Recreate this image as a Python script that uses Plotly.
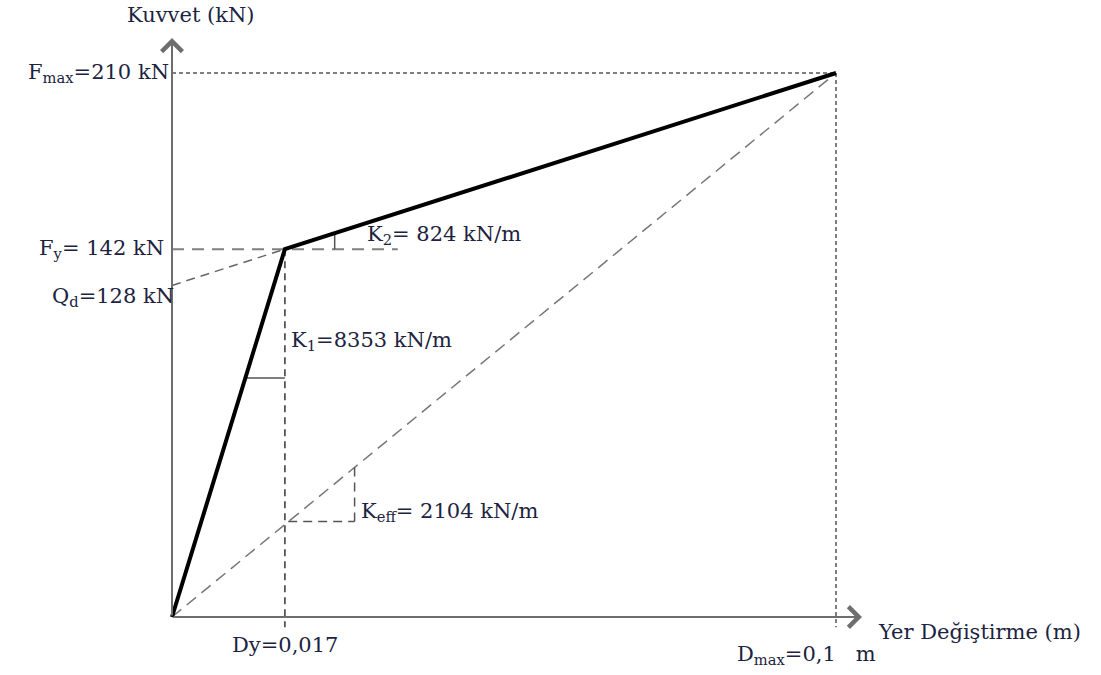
import plotly.graph_objects as go

# Bilinear force-displacement idealisation (isolator)
disp = [0.0, 0.017, 0.1]        # D (m): origin, yield, max
force = [0.0, 142.0, 210.0]     # F (kN): origin, yield, max
Qd = 128.0                      # characteristic strength (kN)
K1 = 8353                       # elastic stiffness (kN/m)
K2 = 824                        # post-yield stiffness (kN/m)
Keff = 2104                     # effective stiffness (kN/m)

Dy, Dmax = disp[1], disp[2]
Fy, Fmax = force[1], force[2]


def tr(v):
    return str(v).replace(".", ",")


# pixel mapping of the drawing area (full page used as plot area)
W, H = 1101, 675
x_org, x_ref = 172, 836
y_org, y_ref = 617, 73
sx = (x_ref - x_org) / Dmax
sy = (y_org - y_ref) / Fmax
xr = [-x_org / sx, (W - x_org) / sx]
yr = [-(H - y_org) / sy, y_org / sy]

GRAY = "#6e6e6e"
TXT = "#1c2340"
FONT = "DejaVu Serif"

fig = go.Figure()


def seg(xs, ys, color=GRAY, width=1.5, dash=None):
    fig.add_trace(go.Scatter(x=xs, y=ys, mode="lines",
                             line=dict(color=color, width=width, dash=dash),
                             hoverinfo="skip", showlegend=False))


x_end = (862 - x_org) / sx
y_end = (y_org - 38) / sy
tick = 4.0

# guide lines
seg([0, Dmax], [Fmax, Fmax], "#555", 1.5, "4px,3px")
seg([Dmax, Dmax], [Fmax, -tick], "#555", 1.5, "4px,3px")
seg([0, 2 * Dy], [Fy, Fy], "#808080", 2, "12px,8px")
seg([Dy, Dy], [Fy, -tick], "#555", 1.8, "7px,5px")
seg([0, Dy], [Qd, Fy], "#666", 1.5, "9px,6px")
seg([0, Dmax], [0, Fmax], "#777", 1.5, "12px,7px")

# K1 slope marker
f1 = 0.65 * Fy
seg([f1 / K1, Dy], [f1, f1], "#555", 1.5)
# K2 angle marker
d2 = Dy + 0.0075
seg([d2, d2], [Fy, Fy + K2 * (d2 - Dy)], "#555", 1.5)
# Keff slope triangle
da, db = 0.0175, 0.0275
seg([da, db], [Keff * da, Keff * da], "#555", 1.5, "9px,6px")
seg([db, db], [Keff * da, Keff * db], "#555", 1.5, "9px,6px")

# force-displacement curve
seg(disp, force, "black", 4)

# axes with arrowheads
for (x, y) in [(x_end, 0), (0, y_end)]:
    fig.add_annotation(x=x, y=y, ax=0, ay=0, xref="x", yref="y",
                       axref="x", ayref="y", text="", showarrow=True,
                       arrowhead=4, arrowsize=2, arrowwidth=2,
                       arrowcolor=GRAY, standoff=0, startstandoff=0)


def label(x, y, text, xanchor="left", yanchor="middle", size=21):
    fig.add_annotation(x=x, y=y, xref="x", yref="y", text=text,
                       showarrow=False, xanchor=xanchor, yanchor=yanchor,
                       font=dict(family=FONT, size=size, color=TXT))


px = 1 / sx
py = 1 / sy
label(19 * px, y_end + 23 * py, "Kuvvet (kN)", "center")
label(x_end + 14 * px, -15 * py, "Yer Değiştirme (m)")
label(-1 * px, Fmax, f"F<sub>max</sub>={int(Fmax)} kN", "right")
label(-6 * px, Fy, f"F<sub>y</sub>= {int(Fy)} kN", "right")
label(4 * px, Qd - 12 * py, f"Q<sub>d</sub>={int(Qd)} kN", "right")
label(Dy + 4 * px, 0.75 * Fy, f"K<sub>1</sub>={K1} kN/m")
label(Dy + 0.012, Fy + 14 * py, f"K<sub>2</sub>= {K2} kN/m")
label(db + 4 * px, Keff * da + 10 * py, f"K<sub>eff</sub>= {Keff} kN/m")
label(Dy, -28 * py, f"Dy={tr(Dy)}", "center")
label(Dmax - 30 * px, -38 * py,
      f"D<sub>max</sub>={tr(Dmax)}\u00a0\u00a0\u00a0m", "center")

fig.update_layout(
    width=W, height=H,
    margin=dict(l=0, r=0, t=0, b=0),
    paper_bgcolor="white", plot_bgcolor="white",
    xaxis=dict(range=xr, visible=False, fixedrange=True),
    yaxis=dict(range=yr, visible=False, fixedrange=True),
    showlegend=False,
)

fig.write_html("out.html")
